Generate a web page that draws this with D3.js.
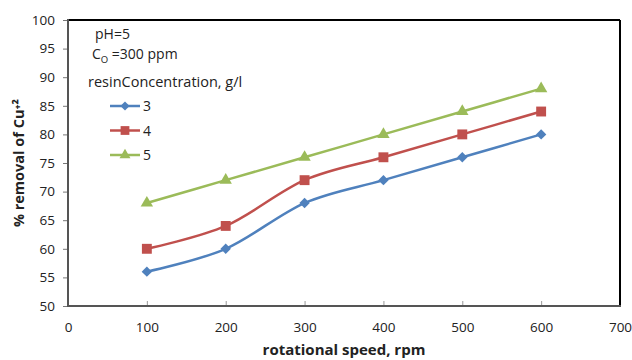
<!DOCTYPE html>
<html>
<head>
<meta charset="utf-8">
<script src="https://cdn.jsdelivr.net/npm/d3@7"></script>
<style>
  body { margin: 0; background: #fff; }
  text { font-family: "Open Sans", "Noto Sans", sans-serif; fill: #222; }
</style>
</head>
<body>
<div id="chart"></div>
<script>
// data
var speeds = [100, 200, 300, 400, 500, 600];
var resin3 = [56, 60, 68, 72, 76, 80];
var resin4 = [60, 64, 72, 76, 80, 84];
var resin5 = [68, 72, 76, 80, 84, 88];
var seriesNames = ["3", "4", "5"];
var xTicks = [0, 100, 200, 300, 400, 500, 600, 700];
var yTicks = [50, 55, 60, 65, 70, 75, 80, 85, 90, 95, 100];

var width = 632, height = 360;
var margin = {top: 20, right: 12, bottom: 54, left: 68};

var svg = d3.select("#chart").append("svg")
  .attr("width", width)
  .attr("height", height);

var x = d3.scaleLinear().domain([0, 700]).range([margin.left, width - margin.right]);
var y = d3.scaleLinear().domain([50, 100]).range([height - margin.bottom, margin.top]);

// y axis
var yAxis = svg.append("g")
  .attr("transform", `translate(${margin.left},0)`)
  .call(d3.axisLeft(y).tickValues(yTicks).tickSize(5).tickPadding(8));
yAxis.select(".domain").remove();
yAxis.selectAll(".tick line").attr("stroke", "#777");
yAxis.selectAll(".tick text").style("font-size", "13.5px").attr("fill", "#333");

// x axis
var xAxis = svg.append("g")
  .attr("transform", `translate(0,${y(50)})`)
  .call(d3.axisBottom(x).tickValues(xTicks).tickSize(-5).tickPadding(16));
xAxis.select(".domain").remove();
xAxis.selectAll(".tick line").attr("stroke", "#999");
xAxis.selectAll(".tick text").style("font-size", "13.5px").attr("fill", "#333");

// frame
svg.append("line").attr("x1", x(0)).attr("x2", x(700)).attr("y1", y(100)).attr("y2", y(100))
  .attr("stroke", "#000").attr("stroke-width", 2);
svg.append("line").attr("x1", x(700)).attr("x2", x(700)).attr("y1", y(100)).attr("y2", y(50))
  .attr("stroke", "#000").attr("stroke-width", 2);
svg.append("line").attr("x1", x(0)).attr("x2", x(0)).attr("y1", y(100) - 1).attr("y2", y(50) + 1)
  .attr("stroke", "#555").attr("stroke-width", 2);
svg.append("line").attr("x1", x(0) - 1).attr("x2", x(700) + 1).attr("y1", y(50)).attr("y2", y(50))
  .attr("stroke", "#555").attr("stroke-width", 2);

// axis titles
svg.append("text")
  .attr("transform", `translate(24,${(y(50) + y(100)) / 2}) rotate(-90)`)
  .attr("text-anchor", "middle")
  .style("font-size", "14.5px").style("font-weight", "bold")
  .text("% removal of Cu⁺²");
svg.append("text")
  .attr("x", (x(0) + x(700)) / 2)
  .attr("y", 355)
  .attr("text-anchor", "middle")
  .style("font-size", "15px").style("font-weight", "bold")
  .text("rotational speed, rpm");

var series = [
  {name: seriesNames[0], values: resin3, color: "#4F81BD", shape: "diamond"},
  {name: seriesNames[1], values: resin4, color: "#C0504D", shape: "square"},
  {name: seriesNames[2], values: resin5, color: "#9BBB59", shape: "triangle"}
];

var line = d3.line()
  .x(function(d, i) { return x(speeds[i]); })
  .y(function(d) { return y(d); })
  .curve(d3.curveCatmullRom.alpha(0));

// Excel-style diamond: wider than d3's default
function diamond(r) {
  return `M0,${-r}L${r},0L0,${r}L${-r},0Z`;
}
function symbolFor(shape, size) {
  if (shape == "diamond") return diamond(Math.sqrt(size) * 0.62);
  if (shape == "square") return d3.symbol().type(d3.symbolSquare).size(size * 1.4)();
  return d3.symbol().type(d3.symbolTriangle).size(size * 0.95)();
}

series.forEach(function(s) {
  svg.append("path")
    .datum(s.values)
    .attr("fill", "none")
    .attr("stroke", s.color)
    .attr("stroke-width", 2.5)
    .attr("d", line);

  svg.selectAll(null)
    .data(s.values)
    .enter().append("path")
    .attr("transform", function(d, i) { return `translate(${x(speeds[i])},${y(d)})`; })
    .attr("d", symbolFor(s.shape, 70))
    .attr("fill", s.color);
});

// annotations + legend
svg.append("text").attr("x", 95).attr("y", 39).style("font-size", "14px").text("pH=5");
var co = svg.append("text").attr("x", 92).attr("y", 59).style("font-size", "14px");
co.append("tspan").text("C");
co.append("tspan").attr("dy", 4).style("font-size", "9.5px").text("O");
co.append("tspan").attr("dy", -4).text(" =300 ppm");
svg.append("text").attr("x", 88).attr("y", 87).style("font-size", "14.5px").text("resinConcentration, g/l");

series.forEach(function(s, i) {
  var ly = 106 + i * 24.5;
  svg.append("line").attr("x1", 110).attr("x2", 140).attr("y1", ly).attr("y2", ly)
    .attr("stroke", s.color).attr("stroke-width", 2.5);
  svg.append("path").attr("transform", `translate(125,${ly})`)
    .attr("d", symbolFor(s.shape, 55)).attr("fill", s.color);
  svg.append("text").attr("x", 143).attr("y", ly + 5).style("font-size", "14px").text(s.name);
});
</script>
</body>
</html>
